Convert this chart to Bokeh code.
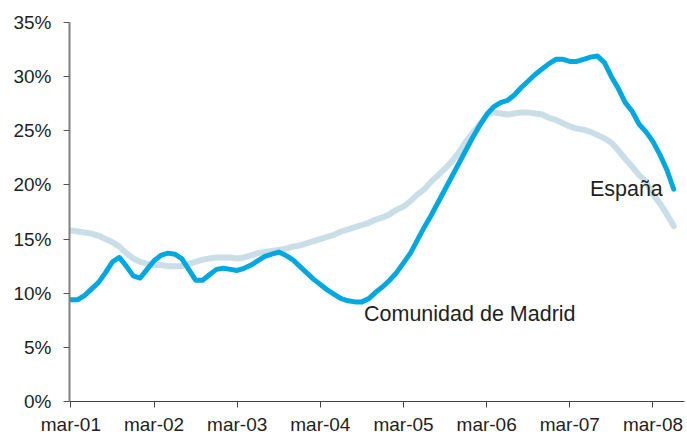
from bokeh.plotting import figure
from bokeh.models import FixedTicker, Range1d, Label
from bokeh.embed import file_html
from bokeh.resources import INLINE

# months since mar-01
months = list(range(0, 88))

madrid = [9.4, 9.4, 9.8, 10.4, 11.0, 11.9, 12.9, 13.3, 12.5, 11.6,
          11.4, 12.2, 13.0, 13.5, 13.7, 13.6, 13.2, 12.2, 11.2, 11.2,
          11.7, 12.2, 12.3, 12.2, 12.1, 12.3, 12.6, 13.0, 13.4, 13.6,
          13.8, 13.5, 13.1, 12.5, 11.9, 11.3, 10.8, 10.3, 9.9, 9.5,
          9.3, 9.2, 9.2, 9.5, 10.1, 10.6, 11.2, 11.9, 12.8, 13.7,
          14.9, 16.1, 17.2, 18.4, 19.6, 20.8, 22.0, 23.2, 24.4, 25.5,
          26.5, 27.2, 27.6, 27.8, 28.3, 29.0, 29.6, 30.2, 30.7, 31.2,
          31.6, 31.6, 31.4, 31.4, 31.6, 31.8, 31.9, 31.3, 30.0, 28.9,
          27.6, 26.8, 25.6, 24.9, 24.0, 22.8, 21.4, 19.6]

espana = [15.8, 15.7, 15.6, 15.5, 15.3, 15.0, 14.7, 14.3, 13.7, 13.2,
          12.9, 12.7, 12.6, 12.6, 12.5, 12.5, 12.5, 12.7, 12.9, 13.1,
          13.2, 13.3, 13.3, 13.3, 13.2, 13.3, 13.5, 13.7, 13.8, 13.9,
          14.0, 14.1, 14.3, 14.4, 14.6, 14.8, 15.0, 15.2, 15.4, 15.7,
          15.9, 16.1, 16.3, 16.5, 16.8, 17.0, 17.3, 17.7, 18.0, 18.5,
          19.1, 19.6, 20.3, 20.9, 21.5, 22.2, 23.0, 24.0, 24.8, 25.6,
          26.4, 26.7, 26.6, 26.5, 26.6, 26.7, 26.7, 26.6, 26.5, 26.2,
          26.0, 25.7, 25.4, 25.2, 25.1, 24.9, 24.6, 24.3, 23.9, 23.2,
          22.4, 21.7, 20.9, 20.3, 19.1, 18.3, 17.3, 16.2]

tick_months = [0, 12, 24, 36, 48, 60, 72, 84]
tick_labels = ["mar-01", "mar-02", "mar-03", "mar-04", "mar-05", "mar-06", "mar-07", "mar-08"]
y_ticks = [0, 5, 10, 15, 20, 25, 30, 35]
y_labels = ["0%", "5%", "10%", "15%", "20%", "25%", "30%", "35%"]

FONT = "Liberation Sans"
TXT = "#231f20"

p = figure(width=687, height=440, output_backend="svg", toolbar_location=None,
           x_range=Range1d(-0.2, 88.55), y_range=Range1d(0, 35),
           min_border_left=69, min_border_right=3, min_border_top=22, min_border_bottom=39)
p.outline_line_color = None
p.grid.grid_line_color = None
p.background_fill_color = "white"
p.border_fill_color = "white"

p.line(months, espana, line_color="#c9dee6", line_width=6, line_join="round", line_cap="round")
p.line(months, madrid, line_color="#00a8df", line_width=5, line_join="round", line_cap="round")

p.xaxis.ticker = FixedTicker(ticks=tick_months)
p.xaxis.major_label_overrides = {m: l for m, l in zip(tick_months, tick_labels)}
p.yaxis.ticker = FixedTicker(ticks=y_ticks)
p.yaxis.major_label_overrides = {v: l for v, l in zip(y_ticks, y_labels)}

for ax in (p.xaxis, p.yaxis):
    ax.minor_tick_line_color = None
    ax.major_tick_in = 0
    ax.major_tick_out = 6
    ax.major_label_text_font = FONT
    ax.major_label_text_font_size = "19px"
    ax.major_label_text_color = TXT

p.xaxis.axis_line_color = "#444444"
p.xaxis.axis_line_width = 1.2
p.xaxis.major_tick_line_color = "#444444"
p.xaxis.major_label_standoff = 6
p.yaxis.axis_line_color = "#808080"
p.yaxis.axis_line_width = 2
p.yaxis.major_tick_line_color = "#555555"
p.yaxis.major_label_standoff = 12

p.add_layout(Label(x=42.3, y=8.05, text="Comunidad de Madrid", text_font=FONT,
                   text_font_size="21.5px", text_color=TXT, text_baseline="alphabetic"))
p.add_layout(Label(x=74.9, y=19.65, text="España", text_font=FONT,
                   text_font_size="21.5px", text_color=TXT, text_baseline="alphabetic"))

open("out.html", "w").write(file_html(p, INLINE))
